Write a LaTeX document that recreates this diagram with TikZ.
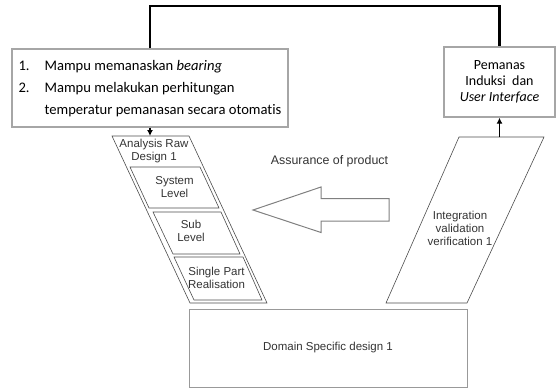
\documentclass[tikz,border=0pt]{standalone}
\usepackage{fontspec}
\setmainfont{Liberation Sans}
\newfontfamily\calibri[Ligatures=NoCommon]{Carlito}
\usetikzlibrary{calc,arrows.meta}

\begin{document}
\begin{tikzpicture}[x=1pt, y=-1pt,
    box/.style={draw=gray!70, line width=1.3pt, fill=white, inner sep=0pt},
    para/.style={draw=black!70, line width=0.6pt},
    lbl/.style={font=\fontsize{11.5}{13}\selectfont, text=black!80, align=center},
    link/.style={line width=2.2pt, black},
    arr/.style={-{Latex[length=6pt,width=6pt]}, line width=1.4pt}]
        \useasboundingbox (0,0) rectangle (556,389);
        \node[box, minimum width=276pt, minimum height=78pt, font=\calibri\fontsize{14.6}{22}\selectfont] (req) at (150,88)
            {\begin{tabular}{@{}p{26pt}@{}l@{}}
            1. & Mampu memanaskan \textit{bearing}\\
            2. & Mampu melakukan perhitungan\\
               & temperatur pemanasan secara otomatis
            \end{tabular}};
        \node[box, minimum width=111pt, minimum height=70pt, align=center, font=\calibri\fontsize{14}{16}\selectfont] (heater) at (499.5,82)
            {Pemanas\\Induksi\ \ dan\\\textit{User Interface}};
        \node[draw=gray!80, line width=0.8pt, minimum width=278pt, minimum height=78pt, lbl] (domain) at (328,348) {Domain Specific design 1};
        % left side
        \draw[para] (112,136) -- (189,136) -- (267,303) -- (190,303) -- cycle;
        \draw[para] (130,167) -- (200,167) -- (219,208) -- (149,208) -- cycle;
        \draw[para] (153,212) -- (221,212) -- (240,254) -- (173,254) -- cycle;
        \draw[para] (174,257) -- (243,257) -- (262,300) -- (194,300) -- cycle;
        \node[lbl] (ana) at (154,151.5) {Analysis Raw\\Design 1};
        \node[lbl] (sys) at (174.5,187) {System\\Level};
        \node[lbl] (sub) at (191,230.5) {Sub\\Level};
        \node[lbl] (single) at (216.5,278) {Single Part\\Realisation};
        % right side
        \draw[para] (459,137) -- (544,137) -- (467,303) -- (386,303) -- cycle;
        \node[lbl] (integ) at (460,228) {Integration\\validation\\verification 1};
        % big arrow
        \draw[draw=gray, line width=1pt] (253,210) -- (321,187) -- (321,198.5) -- (389,198.5) -- (389,221) -- (321,221) -- (321,232.5) -- cycle;
        \node[lbl, font=\fontsize{12.4}{14}\selectfont] (assur) at (329.5,161) {Assurance of product};
        % connectors
        \coordinate (lpar) at (150,136);
        \coordinate (rpar) at (499.5,137);
        \coordinate (top) at (150,6);
        \draw[link] (req.north) -- (top) -| (heater.north);
        \draw[arr] (req.south) -- (lpar);
        \draw[arr] (rpar) -- (heater.south);
    \end{tikzpicture}
\end{document}
